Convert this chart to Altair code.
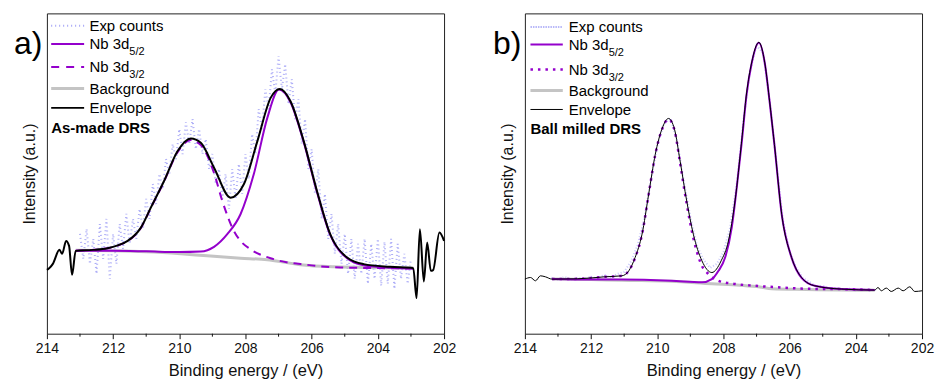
import altair as alt
import pandas as pd

FONT = "Liberation Sans"
PURPLE = "#9400cc"
EXP_A = "#a4a4f6"
EXP_B = "#b8b8f8"
GRAY = "#c4c4c4"
INK = "#111111"

W, H = 398, 321

MAJOR = [214, 212, 210, 208, 206, 204, 202]
MINOR = [213, 211, 209, 207, 205, 203]

# ---------------- panel a (As-made DRS) ----------------
A_EXP_X = [213.0, 212.9, 212.8, 212.7, 212.6, 212.5, 212.4, 212.3, 212.2, 212.1,
           212.0, 211.9, 211.8, 211.7, 211.6, 211.5, 211.4, 211.3, 211.2, 211.1,
           211.0, 210.9, 210.8, 210.7, 210.6, 210.5, 210.4, 210.3, 210.2, 210.1,
           210.0, 209.9, 209.8, 209.7, 209.6, 209.5, 209.4, 209.3, 209.2, 209.1,
           209.0, 208.9, 208.8, 208.7, 208.6, 208.5, 208.4, 208.3, 208.2, 208.1,
           208.0, 207.9, 207.8, 207.7, 207.6, 207.5, 207.4, 207.3, 207.2, 207.1,
           207.0, 206.9, 206.8, 206.7, 206.6, 206.5, 206.4, 206.3, 206.2, 206.1,
           206.0, 205.9, 205.8, 205.7, 205.6, 205.5, 205.4, 205.3, 205.2, 205.1,
           205.0, 204.9, 204.8, 204.7, 204.6, 204.5, 204.4, 204.3, 204.2, 204.1,
           204.0, 203.9, 203.8, 203.7, 203.6, 203.5, 203.4, 203.3, 203.2, 203.1,
           203.0]
A_EXP_Y = [100, 75, 105, 70, 95, 60, 110, 75, 115, 55,
           100, 70, 110, 85, 120, 90, 115, 95, 125, 105,
           135, 115, 150, 130, 160, 145, 175, 160, 190, 175,
           205, 180, 212, 190, 215, 185, 205, 180, 195, 165,
           180, 150, 165, 135, 160, 125, 165, 135, 170, 140,
           180, 155, 200, 180, 225, 205, 245, 225, 265, 240,
           278, 245, 270, 230, 255, 215, 235, 190, 215, 165,
           185, 140, 165, 115, 140, 95, 120, 80, 110, 70,
           100, 60, 95, 55, 90, 60, 95, 50, 90, 55,
           95, 48, 92, 50, 95, 45, 90, 55, 80, 50,
           75]

A_ENV_X = [214.0, 213.94, 213.82, 213.62, 213.54, 213.42, 213.33, 213.24, 213.13,
           212.6, 212.17, 211.86, 211.56, 211.16, 210.86, 210.46, 210.05, 209.65,
           209.35, 208.95, 208.45, 208.05, 207.64, 207.24, 206.96, 206.64, 206.24,
           205.84, 205.44, 204.93, 204.43, 203.63, 202.93, 202.83, 202.73, 202.61,
           202.51, 202.40, 202.33, 202.14, 202.0]
A_ENV_Y = [64, 65.3, 70, 84, 80, 93, 88, 59, 83,
           84, 85.7, 88.5, 93, 106.3, 126.3, 153, 183, 195.7,
           191.3, 166.3, 136.3, 149.7, 193, 236.3, 245.3, 233, 193,
           143, 99.7, 76.3, 69.7, 67, 65.7, 35.7, 104.7, 52.3,
           91.3, 63, 63.7, 101.3, 93]

A_P52_X = [213.13, 212.0, 211.0, 210.0, 209.35, 208.95, 208.55, 208.15, 207.75,
           207.34, 206.99, 206.64, 206.24, 205.84, 205.44, 204.93, 204.43, 203.63,
           202.93]
A_P52_Y = [83, 83, 82.5, 81.8, 82.3, 87, 99.7, 119.7, 159.7,
           216.3, 244.7, 232, 192, 142, 99, 75.5, 68.5, 66,
           65.3]

A_P32_X = [213.13, 212.17, 211.86, 211.56, 211.16, 210.86, 210.46, 210.05, 209.65,
           209.35, 208.95, 208.7, 208.35, 208.15, 207.85, 207.15, 206.14, 205.13,
           204.0, 202.93]
A_P32_Y = [83, 85.7, 88.3, 92.8, 106, 126, 152.5, 182, 194,
           189, 161, 133, 103, 93, 84.7, 74.7, 69, 66.3,
           65.8, 65.3]

A_BG_X = [213.13, 212.0, 211.0, 209.95, 209.16, 208.15, 207.34, 206.9, 206.34,
          205.34, 204.0, 202.93]
A_BG_Y = [83.5, 83, 82, 80, 78, 75.7, 74, 72, 69,
          67, 66.3, 66]

# ---------------- panel b (Ball milled DRS) ----------------
B_EXP_X = [213.2, 213.0, 212.8, 212.6, 212.4, 212.2, 212.0, 211.8, 211.6, 211.4,
           211.2, 211.0, 210.8, 210.6, 210.4, 210.2, 210.0, 209.8, 209.6, 209.4,
           209.2, 209.0, 208.8, 208.6, 208.4, 208.2, 208.0, 207.8, 207.6, 207.4,
           207.2, 207.0, 206.8, 206.6, 206.4, 206.2, 206.0, 205.8, 205.6, 205.4,
           205.2, 205.0, 204.8, 204.6, 204.4, 204.2, 204.0, 203.8, 203.6, 203.4]
B_EXP_Y = [56, 54, 57, 54, 56, 55, 57, 55, 59, 56,
           60, 62, 72, 88, 114, 152, 188, 210, 216, 193,
           153, 117, 88, 74, 66, 70, 82, 106, 150, 212,
           263, 289, 281, 232, 172, 113, 82, 66, 56, 52,
           47, 48, 45, 46, 44, 45, 43, 45, 43, 44]

B_ENV_X = [214.0, 213.83, 213.68, 213.53, 213.38, 213.18, 212.4, 211.6, 211.07,
           210.86, 210.67, 210.46, 210.26, 210.06, 209.86, 209.66, 209.48, 209.31,
           209.11, 208.91, 208.65, 208.35, 208.07, 207.85, 207.65, 207.45, 207.30,
           207.15, 206.93, 206.75, 206.60, 206.46, 206.24, 205.94, 205.64, 205.24,
           204.43, 203.43, 203.33, 203.23, 203.08, 202.93, 202.72, 202.57, 202.37,
           202.22, 202.0]
B_ENV_Y = [54.7, 56.3, 53, 58, 57, 54.7, 55, 57, 58,
           63, 76.3, 99.7, 139.7, 179.7, 205, 215.7, 205, 173,
           133, 99.7, 73, 61.3, 73, 93, 133, 193, 241.3,
           271.3, 292, 271.3, 231.3, 189.7, 119.7, 76.3, 56.3, 48,
           44.7, 43.7, 46.3, 43, 45.7, 42.3, 45.7, 43, 47,
           42.3, 43]

B_P52_X = [213.18, 212.0, 211.07, 209.57, 208.65, 208.35, 208.15, 207.95, 207.75,
           207.6, 207.45, 207.30, 207.15, 206.93, 206.75, 206.60, 206.46, 206.24,
           205.94, 205.64, 205.24, 204.43, 203.43]
B_P52_Y = [54.7, 54.2, 54.2, 53, 51.5, 54.7, 63, 76.3, 106.3,
           146, 191, 240, 270.5, 291.5, 271, 231, 189.5, 119.5,
           76, 56, 48, 44.7, 43.7]

B_P32_X = [213.18, 212.4, 211.6, 211.07, 210.86, 210.67, 210.46, 210.26, 210.06,
           209.86, 209.66, 209.48, 209.31, 209.11, 208.91, 208.65, 208.45, 208.15,
           207.75, 207.05, 206.24, 205.5, 204.43, 203.43]
B_P32_Y = [54.7, 55, 57, 58, 63, 76, 99.5, 139.5, 179.5,
           204.5, 215, 204, 171, 130, 96, 68, 59.7, 53,
           50.3, 48, 46.3, 45, 44.7, 43.7]

B_BG_X = [213.18, 212.0, 211.07, 209.57, 208.35, 207.5, 206.9, 206.54, 205.5,
          204.43, 203.43]
B_BG_Y = [54.7, 54.3, 53.5, 52.5, 50, 48.5, 46.8, 45, 44.3,
          43.7, 43.5]

# ---------------- helpers ----------------
XSCALE = alt.Scale(domain=[202, 214], reverse=True, nice=False, zero=False)
YSCALE = alt.Scale(domain=[0, 321], nice=False, zero=False)
XAXIS = alt.Axis(values=MAJOR, format="d", title="Binding energy / (eV)",
                 labelFont=FONT, labelFontSize=14, labelColor=INK,
                 titleFont=FONT, titleFontSize=16.5, titleFontWeight="normal",
                 titleColor=INK, tickSize=5, tickColor=INK, tickWidth=1,
                 domain=False, grid=False, labelFlush=False,
                 labelPadding=3, titlePadding=7)
YAXIS = alt.Axis(title="Intensity (a.u.)", labels=False, ticks=False,
                 domain=False, grid=False, titleFont=FONT, titleFontSize=16,
                 titleFontWeight="normal", titleColor=INK, titlePadding=9)
DUMMY = alt.Data(values=[{"k": 1}])


def series(xs, ys, **mark):
    df = pd.DataFrame({"x": xs, "y": ys})
    return alt.Chart(df).mark_line(**mark).encode(
        x=alt.X("x:Q", scale=XSCALE, axis=XAXIS),
        y=alt.Y("y:Q", scale=YSCALE, axis=YAXIS),
    )


def minor_ticks():
    df = pd.DataFrame({"x": MINOR})
    return alt.Chart(df).mark_rule(color=INK, strokeWidth=1).encode(
        x=alt.X("x:Q", scale=XSCALE, axis=XAXIS),
        y=alt.value(H), y2=alt.value(H + 3),
    )


def key_line(x1, x2, y, **mark):
    return alt.Chart(DUMMY).mark_rule(**mark).encode(
        x=alt.value(x1), x2=alt.value(x2), y=alt.value(y))


def label(s, x, y, size, weight="normal"):
    return alt.Chart(DUMMY).mark_text(
        text=s, align="left", baseline="alphabetic", font=FONT,
        fontSize=size, fontWeight=weight, color="#000").encode(
        x=alt.value(x), y=alt.value(y))


def legend(lx1, lx2, tx, rows, styles, sample):
    layers = []
    names = ["Exp counts", "Nb 3d", "Nb 3d", "Background", "Envelope"]
    subs = [None, "5/2", "3/2", None, None]
    for ly, st, nm, sb in zip(rows, styles, names, subs):
        layers.append(key_line(lx1, lx2, ly, **st))
        layers.append(label(nm, tx, ly + 5.4, 15))
        if sb:
            layers.append(label(sb, tx + 40, ly + 11.4, 11))
    layers.append(label(sample, lx1, rows[-1] + 24.8, 15, "bold"))
    return layers


# ---------------- panel a ----------------
a_styles = [
    dict(color=EXP_A, strokeWidth=2, strokeDash=[1, 3]),
    dict(color=PURPLE, strokeWidth=2),
    dict(color=PURPLE, strokeWidth=2, strokeDash=[8, 7]),
    dict(color=GRAY, strokeWidth=3),
    dict(color="#000", strokeWidth=2),
]
panel_a = alt.layer(
    series(A_EXP_X, A_EXP_Y, color=EXP_A, strokeWidth=2, strokeDash=[1, 3], opacity=0.9),
    series(A_BG_X, A_BG_Y, color=GRAY, strokeWidth=3, interpolate="monotone"),
    series(A_P32_X, A_P32_Y, color=PURPLE, strokeWidth=2, strokeDash=[8, 6], interpolate="monotone"),
    series(A_P52_X, A_P52_Y, color=PURPLE, strokeWidth=2, interpolate="monotone"),
    series(A_ENV_X, A_ENV_Y, color="#000", strokeWidth=2, interpolate="monotone"),
    minor_ticks(),
    *legend(4.3, 37.3, 42.6, [12.3, 30.7, 53.7, 75.3, 94.7], a_styles, "As-made DRS"),
    label("a)", -33, 41, 32),
).properties(width=W, height=H)

# ---------------- panel b ----------------
b_styles = [
    dict(color=EXP_B, strokeWidth=2, strokeDash=[1.5, 1]),
    dict(color=PURPLE, strokeWidth=2),
    dict(color=PURPLE, strokeWidth=2.5, strokeDash=[2.5, 5]),
    dict(color=GRAY, strokeWidth=3),
    dict(color="#000", strokeWidth=1),
]
panel_b = alt.layer(
    series(B_EXP_X, B_EXP_Y, color=EXP_B, strokeWidth=2, strokeDash=[1, 2], opacity=0.8),
    series(B_BG_X, B_BG_Y, color=GRAY, strokeWidth=3, interpolate="monotone"),
    series(B_P32_X, B_P32_Y, color=PURPLE, strokeWidth=2.5, strokeDash=[2.5, 5], interpolate="monotone"),
    series(B_P52_X, B_P52_Y, color=PURPLE, strokeWidth=2, interpolate="monotone"),
    series(B_ENV_X, B_ENV_Y, color="#000", strokeWidth=1, interpolate="monotone"),
    minor_ticks(),
    *legend(5.6, 38, 44, [13.7, 31.3, 56.3, 77.3, 96.3], b_styles, "Ball milled DRS"),
    label("b)", -32, 41, 32),
).properties(width=W, height=H)

chart = alt.hconcat(panel_a, panel_b, spacing=35).properties(
    padding={"left": 13, "top": 12, "right": 0, "bottom": 0},
    background="white",
).configure_view(stroke="#222", strokeWidth=1)

chart.save("out.html", embed_options={"renderer": "svg", "actions": False})
